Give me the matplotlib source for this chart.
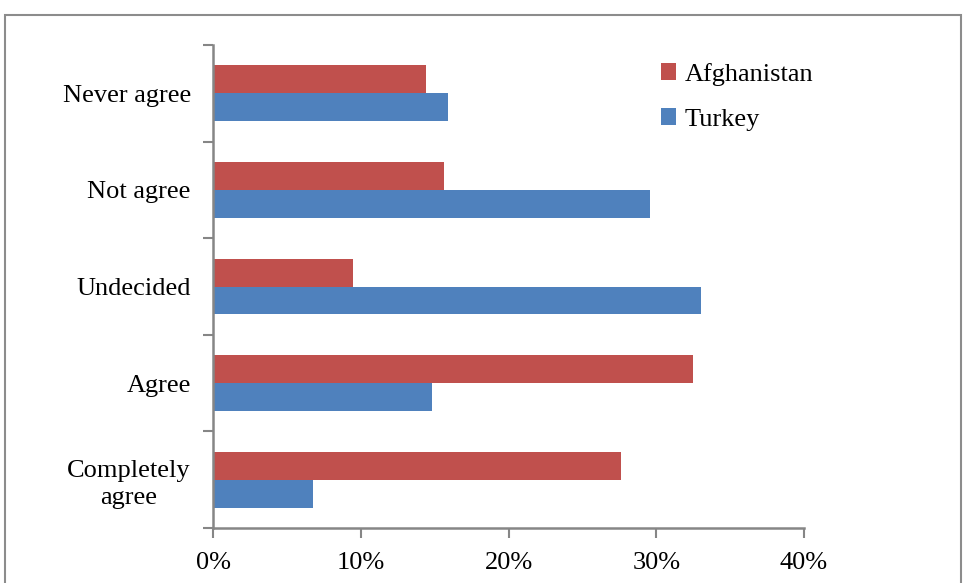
import matplotlib.pyplot as plt
from matplotlib.patches import Rectangle
from matplotlib.ticker import PercentFormatter

categories = ["Completely\nagree", "Agree", "Undecided", "Not agree", "Never agree"]
afghanistan = [27.6, 32.5, 9.5, 15.6, 14.4]
turkey = [6.8, 14.8, 33.0, 29.6, 15.9]

RED = "#C0504D"
BLUE = "#4F81BD"
AXIS = "#868686"

plt.rcParams["font.family"] = ["Liberation Serif", "DejaVu Serif"]

fig = plt.figure(figsize=(9.63, 5.83), dpi=100)
ax = fig.add_axes([0.2212, 0.0943, 0.6137, 0.8285])

h = 0.288
y = list(range(len(categories)))
ax.barh([i + h / 2 for i in y], afghanistan, height=h, color=RED, label="Afghanistan")
ax.barh([i - h / 2 for i in y], turkey, height=h, color=BLUE, label="Turkey")

ax.set_xlim(0, 40)
ax.set_ylim(-0.5, len(categories) - 0.5)
ax.set_xticks([0, 10, 20, 30, 40])
ax.xaxis.set_major_formatter(PercentFormatter(decimals=0))
ax.set_yticks(y)
ax.set_yticklabels(categories, fontsize=19, linespacing=1.3, multialignment="center")
ax.set_yticks([i - 0.5 for i in range(len(categories) + 1)], minor=True)
ax.tick_params(axis="y", which="major", length=0, pad=16)
ax.tick_params(axis="y", which="minor", length=7, width=1.5, color=AXIS)
ax.tick_params(axis="x", length=7, width=1.5, color=AXIS, labelsize=19, pad=10)

for side in ("top", "right"):
    ax.spines[side].set_visible(False)
for side in ("left", "bottom"):
    ax.spines[side].set_color(AXIS)
    ax.spines[side].set_linewidth(1.8)

ax.legend(loc="upper left", bbox_to_anchor=(0.717, 1.012), frameon=False,
          fontsize=19, handlelength=0.6, handleheight=0.6, handletextpad=0.3,
          labelspacing=0.83)

# chart frame
fig.patches.append(Rectangle((5 / 963, -0.1), 956 / 963, 1.1 - 15 / 583,
                             transform=fig.transFigure, fill=False,
                             edgecolor="#8c8c8c", linewidth=1.5))

fig.savefig("out.png", dpi=100)
